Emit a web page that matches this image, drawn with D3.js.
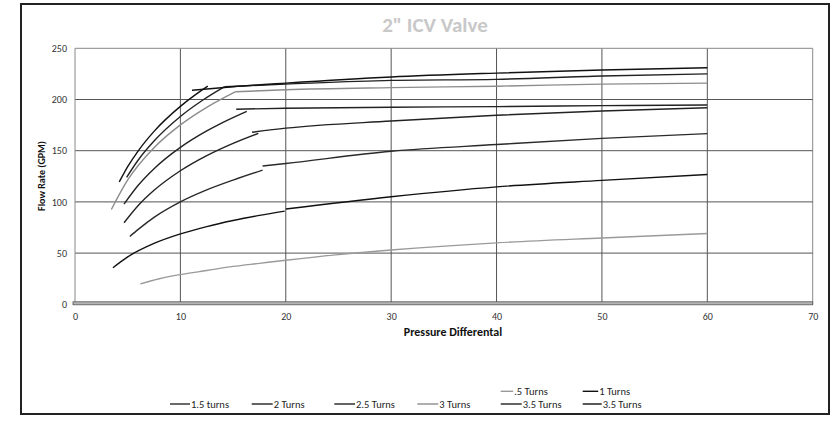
<!DOCTYPE html>
<html>
<head>
<meta charset="utf-8">
<script src="https://cdn.jsdelivr.net/npm/d3@7"></script>
<style>
  body { margin: 0; background: #fff; }
  svg text { font-family: Carlito, Lato, "Open Sans", sans-serif; }
</style>
</head>
<body>
<div id="chart"></div>
<script>
// data: each series is [curve part, flat part] of [pressure, flow] points
const seriesNames = [".5 Turns", "1 Turns", "1.5 turns", "2 Turns", "2.5 Turns", "3 Turns", "3.5 Turns", "3.5 Turns"];
const seriesColors = ["#9a9a9a", "#111", "#2a2a2a", "#222", "#222", "#8c8c8c", "#222", "#111"];

const turns05 = [[[6.2,20],[8,25],[10,29],[12.5,33],[15,37],[17.5,40],[20,43],[25,48.5],[30,53],[40,60],[50,64.8],[60,69.2]]];
const turns10 = [[[3.6,35.7],[5,46.3],[7.5,59.4],[10,68.7],[12.5,75.9],[15,81.8],[17.5,86.8],[19.9,91]],
                 [[20,93],[30,105],[40,114.7],[50,121],[60,126.7]]];
const turns15 = [[[5.2,66.3],[6,73.2],[7.5,84.9],[10,100],[12.5,111.7],[15,121.3],[17.8,131]],
                 [[17.8,135],[20,137.5],[30,149.5],[40,156],[50,162],[60,166.7]]];
const turns20 = [[[4.65,79.6],[6,96.5],[7.5,111.3],[10,130.4],[12.5,145.2],[15,157.2],[17.4,167]],
                 [[16.8,168],[20,172],[30,179],[40,184.6],[50,188.8],[60,192]]];
const turns25 = [[[4.65,97.8],[6,116.2],[7.5,132.4],[10,153.2],[12.5,169.3],[14,177.5],[16.3,188.5]],
                 [[15.3,190.5],[20,191.5],[30,192.5],[40,193],[50,194],[60,194.6]]];
const turns30 = [[[3.45,92.6],[5,121.4],[7.5,152.9],[10,175.2],[12.5,192.4],[15.2,207.5]],
                 [[15.2,207.5],[20,209.5],[30,211.6],[40,213],[50,215],[60,216]]];
const turns35a = [[[4.9,124],[6,140.9],[7.5,159.4],[10,183.4],[12,198.5],[14.2,212.5]],
                  [[14.2,212.5],[20,215],[30,218.7],[40,219.7],[50,223],[60,225]]];
const turns35b = [[[4.2,119.5],[5,134.4],[6,149.9],[7.5,168.9],[10,193.3],[11.5,205.2],[12.6,213]],
                  [[11.1,209],[15,212.5],[20,216],[30,222],[40,225.8],[50,228.8],[60,231]]];
const allSeries = [turns05, turns10, turns15, turns20, turns25, turns30, turns35a, turns35b];

const xTicks = [0, 10, 20, 30, 40, 50, 60, 70];
const yTicks = [0, 50, 100, 150, 200, 250];

const width = 833;
const height = 423;
const margin = {top: 48.3, left: 75, right: 20.3, bottom: 118.7};

const svg = d3.select("#chart")
    .append("svg")
    .attr("width", width)
    .attr("height", height);

// outer frame
svg.append("rect")
    .attr("x", 21).attr("y", 4)
    .attr("width", 808).attr("height", 410)
    .attr("fill", "#fff")
    .attr("stroke", "#222")
    .attr("stroke-width", 2);

// scales
const xScale = d3.scaleLinear()
    .domain([0, 70])
    .range([margin.left, width - margin.right]);

const yScale = d3.scaleLinear()
    .domain([0, 250])
    .range([height - margin.bottom, margin.top]);

// grid
svg.append("g")
    .selectAll("line")
    .data(xTicks.slice(1))
    .enter()
    .append("line")
        .attr("x1", d => xScale(d)).attr("x2", d => xScale(d))
        .attr("y1", yScale(250)).attr("y2", yScale(0))
        .attr("stroke", d => d === 70 ? "#888" : "#555")
        .attr("stroke-width", 1);

svg.append("g")
    .selectAll("line")
    .data(yTicks.slice(1))
    .enter()
    .append("line")
        .attr("x1", xScale(0)).attr("x2", xScale(70))
        .attr("y1", d => yScale(d)).attr("y2", d => yScale(d))
        .attr("stroke", d => d === 250 ? "#888" : "#555")
        .attr("stroke-width", 1);

svg.append("line")
    .attr("x1", xScale(0)).attr("x2", xScale(0))
    .attr("y1", yScale(250)).attr("y2", yScale(0))
    .attr("stroke", "#888");

// floor band at zero
svg.append("rect")
    .attr("x", xScale(0) - 2)
    .attr("y", yScale(0) - 2.5)
    .attr("width", xScale(70) - xScale(0) + 2)
    .attr("height", 3)
    .attr("fill", "#b4b4b4")
    .attr("stroke", "#555")
    .attr("stroke-width", 0.8);

// axes labels
const xAxis = svg.append("g")
    .attr("transform", `translate(0,${yScale(0) + 5})`)
    .call(d3.axisBottom(xScale).tickValues(xTicks).tickSize(0).tickPadding(4));
xAxis.select(".domain").remove();
xAxis.selectAll("text").attr("font-size", 10).attr("fill", "#333")
    .style("font-family", "Carlito, Lato, sans-serif");

const yAxis = svg.append("g")
    .attr("transform", `translate(${xScale(0) - 6},0)`)
    .call(d3.axisLeft(yScale).tickValues(yTicks).tickSize(0).tickPadding(2));
yAxis.select(".domain").remove();
yAxis.selectAll("text").attr("font-size", 10).attr("fill", "#333")
    .style("font-family", "Carlito, Lato, sans-serif");

// series lines
const line = d3.line()
    .x(d => xScale(d[0]))
    .y(d => yScale(d[1]))
    .curve(d3.curveMonotoneX);

allSeries.forEach(function(segments, i) {
    svg.append("g")
        .selectAll("path")
        .data(segments)
        .enter()
        .append("path")
            .attr("d", line)
            .attr("fill", "none")
            .attr("stroke", seriesColors[i])
            .attr("stroke-width", 1.4);
});

// title
svg.append("text")
    .attr("x", 435)
    .attr("y", 32)
    .attr("text-anchor", "middle")
    .attr("font-size", 21)
    .attr("font-weight", "bold")
    .attr("fill", "#c8c8c8")
    .text('2" ICV Valve');

// axis titles
svg.append("text")
    .attr("x", 453)
    .attr("y", 336)
    .attr("text-anchor", "middle")
    .attr("font-size", 12)
    .attr("font-weight", "bold")
    .attr("fill", "#111")
    .text("Pressure Differental");

svg.append("text")
    .attr("transform", "rotate(-90)")
    .attr("x", -176)
    .attr("y", 45)
    .attr("text-anchor", "middle")
    .attr("font-size", 10)
    .attr("font-weight", "bold")
    .attr("fill", "#111")
    .text("Flow Rate (GPM)");

// legend
const legendX = [500.7, 582.7, 170, 251.7, 334.3, 417.3, 500.7, 582.7];
const legendLen = [12.5, 15.5, 20, 21, 20.7, 21, 21, 19];
const legendY = [391.3, 391.3, 404, 404, 404, 404, 404, 404];
const legendOrder = [0, 1, 2, 3, 4, 5, 6, 7];

const legend = svg.append("g")
    .selectAll("g")
    .data(legendOrder)
    .enter()
    .append("g");

legend.append("line")
    .attr("x1", i => legendX[i])
    .attr("x2", i => legendX[i] + legendLen[i])
    .attr("y1", i => legendY[i])
    .attr("y2", i => legendY[i])
    .attr("stroke", i => seriesColors[i])
    .attr("stroke-width", 1.4);

legend.append("text")
    .attr("x", i => legendX[i] + legendLen[i] + 1)
    .attr("y", i => legendY[i] + 3.5)
    .attr("font-size", 10.5)
    .attr("fill", "#222")
    .text(i => seriesNames[i]);
</script>
</body>
</html>
